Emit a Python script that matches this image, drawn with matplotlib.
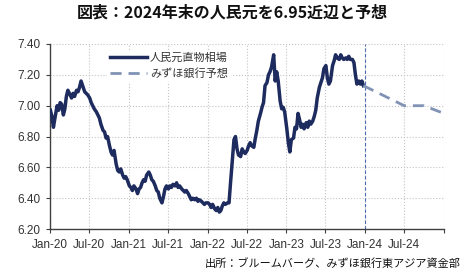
import numpy as np
import pandas as pd
import matplotlib
matplotlib.use("Agg")
import matplotlib.pyplot as plt
from matplotlib.lines import Line2D

plt.rcParams['font.family'] = ['Liberation Sans', 'Noto Sans CJK JP', 'DejaVu Sans']

# weekly USD/CNY spot (4 readings per month)
cny_2020 = [6.97, 6.93, 6.86, 6.92, 7.00, 6.97, 7.02, 7.01, 6.94, 6.98, 7.06, 7.10,
            7.07, 7.05, 7.08, 7.06, 7.10, 7.09, 7.12, 7.16, 7.12, 7.09, 7.08, 7.07,
            7.05, 7.02, 7.00, 6.98, 6.96, 6.94, 6.92, 6.88, 6.84, 6.83, 6.79, 6.80,
            6.74, 6.70, 6.68, 6.71, 6.62, 6.58, 6.57, 6.59, 6.55, 6.53, 6.54, 6.52]
cny_2021 = [6.48, 6.47, 6.45, 6.48, 6.46, 6.43, 6.46, 6.47, 6.50, 6.52, 6.51, 6.55,
            6.57, 6.55, 6.52, 6.51, 6.48, 6.45, 6.44, 6.40, 6.37, 6.41, 6.46, 6.48,
            6.46, 6.48, 6.47, 6.49, 6.48, 6.50, 6.47, 6.48, 6.46, 6.45, 6.44, 6.45,
            6.43, 6.41, 6.39, 6.40, 6.39, 6.40, 6.38, 6.39, 6.38, 6.37, 6.36, 6.37]
cny_2022 = [6.37, 6.36, 6.34, 6.36, 6.33, 6.32, 6.34, 6.31, 6.32, 6.35, 6.37, 6.36,
            6.37, 6.37, 6.50, 6.62, 6.78, 6.80, 6.72, 6.68, 6.67, 6.72, 6.70, 6.69,
            6.71, 6.74, 6.76, 6.74, 6.73, 6.79, 6.84, 6.90, 6.95, 6.99, 7.02, 7.13,
            7.15, 7.20, 7.22, 7.25, 7.33, 7.16, 7.22, 7.16, 7.03, 6.98, 6.99, 6.96]
cny_2023 = [6.85, 6.76, 6.70, 6.78, 6.79, 6.86, 6.85, 6.95, 6.91, 6.86, 6.88, 6.85,
            6.89, 6.86, 6.90, 6.88, 6.90, 6.93, 6.97, 7.05, 7.12, 7.15, 7.18, 7.24,
            7.26, 7.18, 7.14, 7.16, 7.26, 7.29, 7.33, 7.31, 7.30, 7.33, 7.31, 7.30,
            7.31, 7.30, 7.32, 7.30, 7.30, 7.28, 7.20, 7.14, 7.16, 7.14, 7.16, 7.13]
years = [2020, 2021, 2022, 2023]
week_days = [3, 10, 17, 24]

# Mizuho forecast path
fc_dates = ['2023-12-24', '2024-06-30', '2024-09-30', '2024-12-31']
fc_vals = [7.13, 7.00, 7.00, 6.95]

cny_vals = cny_2020 + cny_2021 + cny_2022 + cny_2023
cny_dates = pd.to_datetime([f'{y}-{m:02d}-{d:02d}' for y in years
                            for m in range(1, 13) for d in week_days])
fc_dates = pd.to_datetime(fc_dates)

navy = '#1d2b5e'
fc_color = '#8193b5'
text_color = '#333333'

fig = plt.figure(figsize=(4.65, 2.75), dpi=100)
ax = fig.add_axes([0.1075, 0.167, 0.8475, 0.673])

ax.plot(cny_dates, cny_vals, color=navy, lw=2.5, solid_joinstyle='round', zorder=3)
ax.plot(fc_dates, fc_vals, color=fc_color, lw=2.0, dashes=(4, 2.5), zorder=3)
ax.axvline(pd.Timestamp('2024-01-01'), color='#4a6cb3', lw=0.8, dashes=(3, 2), zorder=2)

ax.set_xlim(pd.Timestamp('2020-01-01'), pd.Timestamp('2025-01-01'))
ax.set_ylim(6.2, 7.4)
ax.set_yticks(np.arange(6.2, 7.41, 0.2))
ax.yaxis.set_major_formatter(plt.FuncFormatter(lambda v, p: f'{v:.2f}'))
xt = pd.date_range('2020-01-01', '2025-01-01', freq='6MS')
ax.set_xticks(xt)
ax.set_xticklabels([d.strftime('%b-%y') for d in xt[:-1]] + [''])

ax.grid(True, color='#c4c4c4', lw=0.8, ls=':')
ax.set_axisbelow(True)
for s in ['top', 'right']:
    ax.spines[s].set_visible(False)
for s in ['left', 'bottom']:
    ax.spines[s].set_color('#404040')
    ax.spines[s].set_linewidth(1.0)
ax.tick_params(axis='both', direction='out', length=3, color='#404040',
               labelsize=8.5, labelcolor=text_color, pad=4)

handles = [Line2D([], [], color=navy, lw=2.5),
           Line2D([], [], color=fc_color, lw=2.0, dashes=(4, 2.5))]
leg = ax.legend(handles, ['人民元直物相場', 'みずほ銀行予想'], loc='upper left',
                bbox_to_anchor=(0.13, 1.0), frameon=True, facecolor='white',
                edgecolor='none', framealpha=1, handlelength=3.3,
                handletextpad=0.3, labelspacing=0.45, borderpad=0.3,
                prop={'family': ['Noto Sans CJK JP'], 'size': 8})
for t in leg.get_texts():
    t.set_color(text_color)

fig.text(0.5, 0.955, '図表：2024年末の人民元を6.95近辺と予想', ha='center', va='center',
         fontsize=11.5, fontweight='bold', family=['Noto Sans CJK JP'], color='#111111')
fig.text(0.99, 0.04, '出所：ブルームバーグ、みずほ銀行東アジア資金部', ha='right', va='center',
         fontsize=8, family=['Noto Sans CJK JP'], color='#111111')

fig.savefig('out.png', dpi=100)
